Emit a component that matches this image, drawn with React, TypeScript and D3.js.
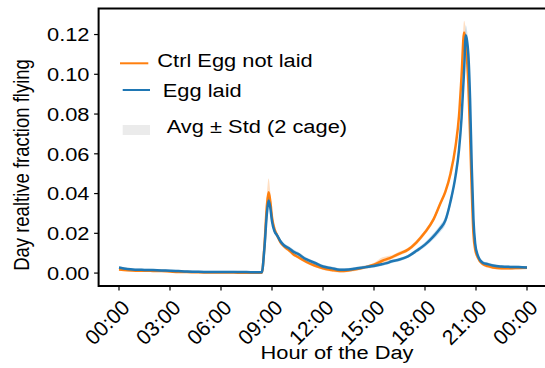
import React from 'react';
import * as d3 from 'd3';

const hours = [0, 0.5, 1, 1.5, 2, 2.5, 3, 3.5, 4, 4.5, 5, 5.5, 6, 6.5, 7, 7.5, 8,
  8.4, 8.55, 8.7, 8.8, 8.9, 9.0, 9.15, 9.3, 9.5, 9.7,
  10, 10.25, 10.5, 11, 11.5, 12, 12.5, 13, 13.5, 14, 14.5, 15, 15.5, 15.75, 16, 16.5,
  17, 17.5, 18, 18.5, 18.9, 19.2, 19.5, 19.8, 20.0, 20.15, 20.3, 20.4, 20.47, 20.55, 20.65, 20.75, 20.85, 20.95, 21.1, 21.4, 21.7, 22, 22.5, 23, 23.5, 24];

const eggMean = [0.0028, 0.0020, 0.0017, 0.0016, 0.0015, 0.0013, 0.0012, 0.0010, 0.0008, 0.0007, 0.0006, 0.0006, 0.0006, 0.0006, 0.0005, 0.0005, 0.0004,
  0.0004, 0.012, 0.030, 0.0365, 0.033, 0.026, 0.021, 0.019, 0.016, 0.014,
  0.0125, 0.0108, 0.0098, 0.007, 0.0052, 0.0033, 0.0025, 0.0017, 0.0018, 0.0024, 0.003, 0.0036, 0.0045, 0.005, 0.0058, 0.0068,
  0.0084, 0.0112, 0.0143, 0.0185, 0.0225, 0.0265, 0.036, 0.049, 0.062, 0.078, 0.102, 0.1197, 0.117, 0.11, 0.088, 0.0535, 0.027, 0.015, 0.009, 0.0052, 0.0045, 0.0038, 0.0033, 0.0031, 0.003, 0.0028];

const eggStd = [0.0006, 0.0006, 0.0006, 0.0006, 0.0006, 0.0006, 0.0006, 0.0006, 0.0006, 0.0006, 0.0006, 0.0006, 0.0006, 0.0006, 0.0006, 0.0006, 0.0006,
  0.0005, 0.002, 0.002, 0.002, 0.002, 0.0015, 0.0012, 0.001, 0.001, 0.001,
  0.001, 0.0012, 0.001, 0.001, 0.0009, 0.0009, 0.0008, 0.0008, 0.0008, 0.0008, 0.0008, 0.0008, 0.0008, 0.0008, 0.0008, 0.0008,
  0.0008, 0.001, 0.0012, 0.0015, 0.0018, 0.002, 0.002, 0.002, 0.0025, 0.003, 0.004, 0.005, 0.005, 0.005, 0.004, 0.003, 0.002, 0.0015, 0.0012, 0.001, 0.0008, 0.0008, 0.0007, 0.0007, 0.0007, 0.0007];

const ctrlMean = [0.0018, 0.0014, 0.0012, 0.0012, 0.0011, 0.0010, 0.0008, 0.0006, 0.0005, 0.0004, 0.0003, 0.0003, 0.0003, 0.0003, 0.0002, 0.0002, 0.0002,
  0.0002, 0.013, 0.034, 0.0406, 0.036, 0.028, 0.022, 0.019, 0.0155, 0.0135,
  0.0115, 0.0095, 0.0082, 0.0057, 0.0038, 0.0024, 0.0016, 0.001, 0.0013, 0.002, 0.003, 0.0042, 0.0062, 0.007, 0.0078, 0.0098,
  0.0118, 0.0155, 0.0205, 0.027, 0.035, 0.041, 0.05, 0.064, 0.079, 0.099, 0.121, 0.116, 0.108, 0.095, 0.07, 0.042, 0.02, 0.012, 0.008, 0.0045, 0.0035, 0.0028, 0.0024, 0.0024, 0.0026, 0.0027];

const ctrlStd = [0.0005, 0.0005, 0.0005, 0.0005, 0.0005, 0.0005, 0.0005, 0.0005, 0.0005, 0.0005, 0.0005, 0.0005, 0.0005, 0.0005, 0.0005, 0.0005, 0.0005,
  0.0005, 0.004, 0.006, 0.007, 0.005, 0.003, 0.002, 0.0015, 0.001, 0.001,
  0.0008, 0.0008, 0.0008, 0.0008, 0.0008, 0.0008, 0.0008, 0.0008, 0.0008, 0.0008, 0.0008, 0.001, 0.0018, 0.0015, 0.001, 0.001,
  0.001, 0.0012, 0.0012, 0.0012, 0.0012, 0.0012, 0.0012, 0.0015, 0.002, 0.003, 0.006, 0.006, 0.005, 0.004, 0.003, 0.002, 0.0015, 0.001, 0.001, 0.0008, 0.0008, 0.0008, 0.0008, 0.0008, 0.0008, 0.0008];

const xTickHours = [0, 3, 6, 9, 12, 15, 18, 21, 24];
const xTickLabels = ['00:00', '03:00', '06:00', '09:00', '12:00', '15:00', '18:00', '21:00', '00:00'];
const yTicks = [0, 0.02, 0.04, 0.06, 0.08, 0.1, 0.12];
const seriesNames = ['Ctrl Egg not laid', 'Egg laid'];
const bandLabel = 'Avg \u00b1 Std (2 cage)';
const xLabel = 'Hour of the Day';
const yLabel = 'Day realtive fraction flying';

const ORANGE = '#ff7f0e';
const BLUE = '#1f77b4';
const FONT = '"Liberation Sans", Arial, Helvetica, sans-serif';

function T(props: { x: number; y: number; anchor?: string; rotate?: number; size?: number; sx?: number; children: React.ReactNode }) {
  const { x, y, anchor = 'start', rotate, size = 19, sx = 1.15, children } = props;
  return (
    <text
      transform={`translate(${x},${y}) scale(${sx},1)${rotate ? ` rotate(${rotate})` : ''}`}
      textAnchor={anchor}
      fontFamily={FONT}
      fontSize={size}
      fill="#000"
    >
      {children}
    </text>
  );
}

export default function App() {
  const x = d3.scaleLinear().domain([-1.2, 25.2]).range([98.6, 547.4]);
  const y = d3.scaleLinear().domain([-0.0065, 0.1331]).range([286, 8.5]);

  const mk = (mean: number[], std: number[]) => {
    const pts = hours.map((h, i) => ({ h, m: mean[i], s: std[i] }));
    const area = d3.area<any>().x(d => x(d.h)).y0(d => y(d.m - d.s)).y1(d => y(d.m + d.s)).curve(d3.curveMonotoneX);
    const line = d3.line<any>().x(d => x(d.h)).y(d => y(d.m)).curve(d3.curveMonotoneX);
    return { area: area(pts) || '', line: line(pts) || '' };
  };
  const ctrl = mk(ctrlMean, ctrlStd);
  const egg = mk(eggMean, eggStd);

  const [x0, x1] = x.range();
  const [yb, yt] = y.range();

  return (
    <svg width={545} height={368} style={{ position: 'absolute', left: 0, top: 0, background: '#fff' }}>
      <path d={ctrl.area} fill={ORANGE} fillOpacity={0.25} stroke="none" />
      <path d={ctrl.line} fill="none" stroke={ORANGE} strokeWidth={2.5} />
      <path d={egg.area} fill={BLUE} fillOpacity={0.22} stroke="none" />
      <path d={egg.line} fill="none" stroke={BLUE} strokeWidth={2.5} />

      <rect x={x0} y={yt} width={x1 - x0} height={yb - yt} fill="none" stroke="#000" strokeWidth={2} />

      {yTicks.map(t => (
        <g key={t}>
          <line x1={x0 - 4.5} x2={x0} y1={y(t)} y2={y(t)} stroke="#000" strokeWidth={1.2} />
          <T x={89.5} y={y(t) + 6.8} anchor="end">{t.toFixed(2)}</T>
        </g>
      ))}
      {xTickHours.map((h, i) => (
        <g key={i}>
          <line x1={x(h)} x2={x(h)} y1={yb} y2={yb + 4.5} stroke="#000" strokeWidth={1.2} />
          <T x={x(h) + 12} y={309} anchor="end" rotate={-45} size={21} sx={1}>{xTickLabels[i]}</T>
        </g>
      ))}

      <T x={337} y={359} anchor="middle">{xLabel}</T>
      <T x={28.5} y={165} anchor="middle" rotate={-90} size={18.5}>{yLabel}</T>

      <line x1={120} x2={148.3} y1={63.3} y2={63.3} stroke={ORANGE} strokeWidth={2} />
      <T x={157.3} y={66.8}>{seriesNames[0]}</T>
      <line x1={122.7} x2={150} y1={90} y2={90} stroke={BLUE} strokeWidth={2} />
      <T x={162.7} y={97.3}>{seriesNames[1]}</T>
      <rect x={122.7} y={125} width={27.3} height={10} fill="#ebebeb" />
      <T x={166.7} y={133.3}>{bandLabel}</T>
    </svg>
  );
}
